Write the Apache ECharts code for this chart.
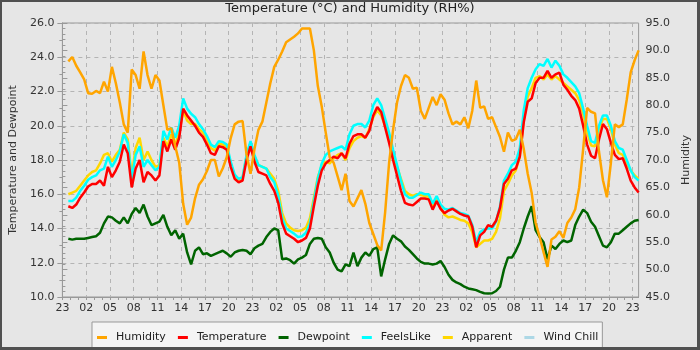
<!DOCTYPE html>
<html>
<head>
<meta charset="utf-8">
<script src="https://cdn.jsdelivr.net/npm/echarts@6/dist/echarts.min.js"></script>
<style>
  html, body { margin: 0; padding: 0; background: #e6e6e6; }
  #wrap { position: relative; width: 700px; height: 350px; }
  #chart { position: absolute; left: 0; top: 0; width: 700px; height: 350px; }
  #frame { position: absolute; left: 0; top: 0; width: 700px; height: 350px; box-sizing: border-box;
           border: 2px solid #505050; border-right-width: 3px; border-bottom-width: 3px; pointer-events: none; }
</style>
</head>
<body>
<div id="wrap"><div id="chart"></div><div id="frame"></div></div>
<script>
// Hour-of-day labels shown every 3 hours (23:00 on day 1 through 23:00 on day 4)
const tickLabels = ['23','02','05','08','11','14','17','20',
                    '23','02','05','08','11','14','17','20',
                    '23','02','05','08','11','14','17','20','23'];

// Readings every half hour, first sample at 23:45 (hours counted from 23:00)
const humidity = [
  88.0, 88.8, 87.2, 86.0, 84.7, 82.2, 82.1, 82.6,
  82.2, 84.3, 82.5, 87.0, 84.0, 80.5, 76.5, 75.0,
  86.5, 85.5, 83.0, 89.8, 85.5, 83.0, 85.5, 84.5,
  80.0, 75.5, 75.8, 72.5, 69.5, 62.0, 58.2, 59.5,
  63.0, 65.5, 66.5, 68.0, 70.0, 70.0, 67.0, 68.5,
  70.5, 74.0, 76.5, 77.0, 77.1, 71.0, 67.5, 72.0,
  75.5, 77.0, 80.5, 84.0, 87.0, 88.3, 89.8, 91.5,
  92.0, 92.5, 93.1, 94.0, 94.0, 94.0, 90.0, 83.5,
  79.7, 75.0, 70.5, 69.5, 67.0, 64.5, 67.5, 62.5,
  61.5, 63.0, 64.5, 62.0, 58.5, 56.5, 54.5, 53.5,
  60.5, 69.5, 75.5, 80.5, 83.5, 85.5, 85.0, 83.0,
  83.2, 79.0, 77.5, 79.5, 81.5, 80.0, 82.0, 81.0,
  78.5, 76.5, 77.0, 76.5, 77.8, 75.8, 79.0, 84.5,
  79.5, 79.8, 77.5, 77.8, 76.0, 74.2, 71.5, 75.0,
  73.5, 73.8, 75.5, 72.0, 67.5, 64.0, 58.5, 56.0,
  53.2, 50.5, 55.5, 56.0, 57.0, 55.8, 58.5, 59.5,
  61.0, 65.0, 72.0, 79.5, 78.8, 78.5, 71.5, 66.3,
  63.2, 69.5, 76.5, 76.0, 76.5, 81.0, 86.0, 88.2,
  90.0
];

const temperature = [
  15.3, 15.2, 15.4, 15.8, 16.1, 16.45, 16.6, 16.6,
  16.8, 16.5, 17.6, 17.0, 17.4, 17.9, 18.9, 18.4,
  16.4, 17.5, 18.0, 16.7, 17.3, 17.1, 16.8, 17.1,
  19.1, 18.5, 19.2, 18.6, 19.3, 21.0, 20.6, 20.3,
  20.0, 19.6, 19.35, 18.9, 18.4, 18.3, 18.8, 18.75,
  18.6, 17.6, 16.9, 16.7, 16.8, 18.0, 18.8, 17.9,
  17.3, 17.2, 17.1, 16.6, 16.2, 15.5, 14.3, 13.7,
  13.55, 13.4, 13.2, 13.3, 13.45, 14.0, 15.3, 16.5,
  17.4, 17.8, 18.0, 18.2, 18.1, 18.4, 18.1, 18.95,
  19.4, 19.5, 19.5, 19.3, 19.7, 20.6, 21.1, 20.8,
  19.9, 19.0, 18.0, 17.1, 16.2, 15.5, 15.4, 15.35,
  15.55, 15.75, 15.75, 15.7, 15.1, 15.6, 15.15, 14.9,
  15.05, 15.15, 15.0, 14.85, 14.76, 14.7, 14.1, 12.9,
  13.6, 13.8, 14.2, 14.1, 14.45, 15.2, 16.6, 16.9,
  17.4, 17.5, 18.2, 20.2, 21.4, 21.6, 22.5, 22.8,
  22.8, 23.2, 22.8, 23.0, 23.1, 22.4, 22.1, 21.75,
  21.5, 21.0, 20.0, 18.9, 18.25, 18.1, 19.2, 20.1,
  19.8, 19.0, 18.3, 18.05, 18.1, 17.5, 16.8, 16.4,
  16.1
];

const dewpoint = [
  13.4, 13.35, 13.4, 13.4, 13.4, 13.45, 13.5, 13.55,
  13.75, 14.3, 14.7, 14.65, 14.45, 14.3, 14.65, 14.3,
  14.85, 15.2, 14.9, 15.4, 14.7, 14.2, 14.3, 14.4,
  14.8, 14.1, 13.6, 13.9, 13.4, 13.7, 12.6, 11.9,
  12.7, 12.9, 12.5, 12.55, 12.4, 12.5, 12.6, 12.7,
  12.55, 12.35, 12.6, 12.7, 12.75, 12.7, 12.5, 12.85,
  13.0, 13.1, 13.5, 13.8, 14.0, 13.9, 12.2, 12.25,
  12.15, 11.95, 12.2, 12.3, 12.45, 13.1, 13.4, 13.45,
  13.4, 12.9, 12.6, 12.0, 11.6, 11.5, 11.9, 11.8,
  12.6, 11.8, 12.3, 12.6, 12.4, 12.8, 12.9, 11.2,
  12.2, 13.1, 13.6, 13.4, 13.25, 12.95, 12.75, 12.5,
  12.25, 12.05, 11.95, 11.95, 11.9, 11.95, 12.1, 11.75,
  11.3, 11.0, 10.85, 10.75, 10.6, 10.5, 10.45, 10.4,
  10.3, 10.22, 10.2, 10.22, 10.35, 10.6, 11.6, 12.3,
  12.3, 12.7, 13.2, 14.0, 14.7, 15.3, 13.9, 13.5,
  13.2, 12.2, 13.0, 12.8, 13.1, 13.3, 13.2, 13.3,
  14.2, 14.7, 15.1, 14.9, 14.4, 14.1, 13.55, 13.0,
  12.9, 13.2, 13.7, 13.7, 13.9, 14.1, 14.3, 14.45,
  14.5
];

const feelsLike = [
  15.6, 15.6, 15.8, 16.2, 16.5, 16.85, 17.0, 17.1,
  17.4, 17.5, 18.2, 17.6, 18.0, 18.5, 19.5, 19.0,
  16.9, 18.3, 18.8, 17.6, 18.0, 17.7, 17.4, 17.6,
  19.7, 19.2, 19.9, 19.3, 20.0, 21.6, 21.0, 20.7,
  20.5, 20.1, 19.8, 19.4, 18.9, 18.75, 19.1, 19.05,
  18.9, 17.9, 17.15, 16.9, 17.0, 18.3, 19.1, 18.3,
  17.7, 17.6, 17.5, 17.0, 16.7, 15.9, 14.6, 14.0,
  13.85, 13.7, 13.5, 13.55, 13.75, 14.3, 15.6, 16.9,
  17.8, 18.3, 18.5, 18.6, 18.7, 18.8, 18.6, 19.5,
  20.0, 20.1, 20.1, 19.9, 20.3, 21.2, 21.6, 21.2,
  20.4, 19.6, 18.6, 17.7, 16.8, 16.0, 15.8, 15.8,
  15.95, 16.1, 16.0, 16.0, 15.45, 15.9, 15.4, 15.15,
  15.1, 15.2, 15.05, 14.9, 14.85, 14.75, 14.2, 13.2,
  13.8, 13.95, 14.0, 14.0, 14.4, 15.3, 16.8, 17.2,
  17.7, 17.9, 18.7, 20.9, 22.2, 22.8, 23.3, 23.6,
  23.5, 23.9, 23.4, 23.8, 23.5, 23.0, 22.8, 22.55,
  22.3, 21.9, 21.0, 20.0, 19.1, 19.0, 20.0, 20.6,
  20.6, 20.0, 19.1, 18.7, 18.6, 18.0, 17.4, 17.0,
  16.8
];

const apparent = [
  16.0, 16.1, 16.2, 16.5, 16.8, 17.1, 17.3, 17.4,
  17.8, 18.3, 18.4, 17.9, 18.3, 18.6, 19.6, 19.2,
  17.1, 18.7, 19.3, 18.0, 18.5, 18.0, 17.6, 17.7,
  19.3, 18.8, 19.5, 18.9, 19.6, 20.9, 20.3, 20.1,
  20.1, 19.8, 19.6, 19.2, 18.7, 18.55, 18.95, 18.9,
  18.75, 17.8, 17.05, 16.85, 16.95, 18.2, 19.0, 18.2,
  17.7, 17.6, 17.5, 17.2, 16.9, 16.2, 14.9, 14.3,
  14.05, 13.9, 13.85, 13.9, 14.05, 14.6, 15.8, 17.0,
  17.7, 17.9, 17.8, 18.1, 18.3, 18.4, 18.0, 18.7,
  19.1, 19.3, 19.4, 19.3, 19.8, 20.5, 20.9, 20.6,
  20.0, 19.3, 18.4, 17.6, 16.9, 16.2, 16.0, 15.9,
  16.0, 15.95, 15.9, 15.85, 15.3, 15.7, 15.2, 14.8,
  14.65, 14.7, 14.6, 14.5, 14.45, 14.3, 13.8, 12.9,
  13.1, 13.3, 13.3, 13.4, 13.8, 14.6, 16.2, 16.6,
  17.1, 17.4, 18.2, 20.3, 21.7, 22.2, 22.8, 22.9,
  22.7, 23.0, 22.7, 22.9, 22.7, 22.5, 22.3, 22.1,
  21.9, 21.5, 20.7, 19.6, 18.85, 18.8, 19.8, 20.4,
  20.4, 19.8, 18.9, 18.4, 18.3, 17.8, 17.4, 17.1,
  16.9
];

// Wind chill only applies below 10 °C, so there is nothing to plot for this period
const windChill = [];

const FIRST_SAMPLE = 0.75;   // hours after 23:00
const SAMPLE_STEP = 0.5;     // hours between samples
const hours = humidity.map((_, i) => FIRST_SAMPLE + i * SAMPLE_STEP);
const pairs = values => values.map((v, i) => [hours[i], v]);

const majorHours = tickLabels.map((_, i) => i * 3);
const everyHour = Array.from({ length: majorHours[majorHours.length - 1] + 1 }, (_, i) => i);
const X_MAX = 72.75;

const FONT = 'DejaVu Sans';
const AXIS_COLOR = '#999999';
const LABEL_COLOR = '#333333';
const GRID_LINE = { color: '#b4b4b4', type: [4, 4], width: 1 };

function lineSeries(name, values, color, yAxisIndex) {
  return {
    name, type: 'line', data: pairs(values),
    xAxisIndex: 0, yAxisIndex,
    color, symbol: 'none', showSymbol: false,
    lineStyle: { width: 2.5, color }, itemStyle: { color },
    emphasis: { disabled: true }, silent: true
  };
}

const chart = echarts.init(document.getElementById('chart'), null, { renderer: 'canvas', devicePixelRatio: 1 });

chart.setOption({
  animation: false,
  backgroundColor: '#e6e6e6',
  textStyle: { fontFamily: FONT },
  title: {
    text: 'Temperature (°C) and Humidity (RH%)',
    left: 'center', top: 2, padding: 0,
    textStyle: { fontFamily: FONT, fontSize: 13, fontWeight: 'normal', color: '#222' }
  },
  legend: {
    data: ['Humidity', 'Temperature', 'Dewpoint', 'FeelsLike', 'Apparent', 'Wind Chill'],
    left: 92, top: 322, padding: [10, 4, 14, 5],
    icon: 'rect', itemWidth: 10, itemHeight: 3, itemGap: 12,
    backgroundColor: '#f4f4f4', borderColor: '#999', borderWidth: 1,
    selectedMode: false,
    textStyle: { fontFamily: FONT, fontSize: 11, color: '#222', padding: [0, 0, 0, 4] }
  },
  grid: {
    left: 55, right: 60, top: 23, bottom: 53,
    show: true, borderColor: AXIS_COLOR, borderWidth: 1, backgroundColor: 'transparent'
  },
  xAxis: [
    {
      type: 'value', min: 0, max: X_MAX, position: 'bottom',
      axisLine: { show: true, lineStyle: { color: AXIS_COLOR } },
      axisTick: { show: true, customValues: majorHours, length: 3, lineStyle: { color: AXIS_COLOR } },
      axisLabel: {
        customValues: majorHours,
        formatter: v => tickLabels[Math.round(v / 3)],
        fontFamily: FONT, fontSize: 11, color: LABEL_COLOR, margin: 6
      },
      splitLine: { show: true, lineStyle: GRID_LINE }
    },
    {
      type: 'value', min: 0, max: X_MAX, position: 'bottom',
      axisLine: { show: false }, axisLabel: { show: false }, splitLine: { show: false },
      axisTick: { show: true, customValues: everyHour, length: 3, lineStyle: { color: AXIS_COLOR } }
    }
  ],
  yAxis: [
    {
      type: 'value', min: 10, max: 26, interval: 2, position: 'left',
      name: 'Temperature and Dewpoint', nameLocation: 'middle', nameGap: 39, nameRotate: 90,
      nameTextStyle: { fontFamily: FONT, fontSize: 11, color: LABEL_COLOR },
      axisLine: { show: true, lineStyle: { color: AXIS_COLOR } },
      axisTick: { show: true, length: 5, lineStyle: { color: AXIS_COLOR } },
      minorTick: { show: true, splitNumber: 2, length: 3, lineStyle: { color: AXIS_COLOR } },
      axisLabel: { formatter: v => v.toFixed(1), fontFamily: FONT, fontSize: 11, color: LABEL_COLOR, margin: 8 },
      splitLine: { show: true, lineStyle: GRID_LINE }
    },
    {
      type: 'value', min: 45, max: 95, interval: 5, position: 'right',
      name: 'Humidity', nameLocation: 'middle', nameGap: 42, nameRotate: 90,
      nameTextStyle: { fontFamily: FONT, fontSize: 11, color: LABEL_COLOR },
      axisLine: { show: true, lineStyle: { color: AXIS_COLOR } },
      axisTick: { show: true, length: 5, lineStyle: { color: AXIS_COLOR } },
      minorTick: { show: true, splitNumber: 5, length: 3, lineStyle: { color: AXIS_COLOR } },
      axisLabel: { formatter: v => v.toFixed(1), fontFamily: FONT, fontSize: 11, color: LABEL_COLOR, margin: 7 },
      splitLine: { show: false }
    }
  ],
  // Drawing order: later series sit on top
  series: [
    lineSeries('Wind Chill', windChill, '#add8e6', 0),
    lineSeries('Apparent', apparent, '#ffd700', 0),
    lineSeries('FeelsLike', feelsLike, '#00ffff', 0),
    lineSeries('Dewpoint', dewpoint, '#006400', 0),
    lineSeries('Temperature', temperature, '#ff0000', 0),
    lineSeries('Humidity', humidity, '#ffa500', 1)
  ]
});
</script>
</body>
</html>
